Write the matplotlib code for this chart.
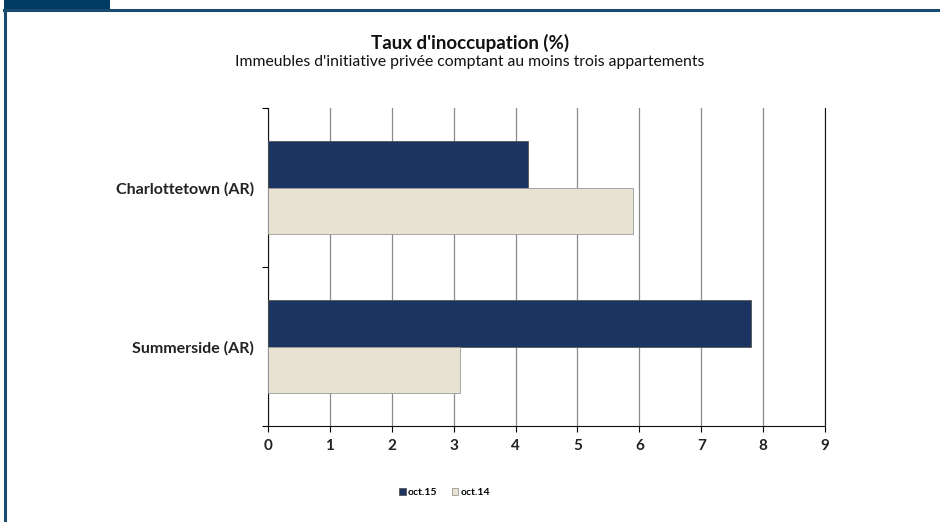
import matplotlib.pyplot as plt
from matplotlib.patches import Rectangle
from matplotlib.lines import Line2D

cities = ["Summerside (AR)", "Charlottetown (AR)"]
oct15 = [7.8, 4.2]
oct14 = [3.1, 5.9]
series_names = ["oct.15", "oct.14"]
x_ticks = [0, 1, 2, 3, 4, 5, 6, 7, 8, 9]

plt.rcParams['font.family'] = ['Lato', 'DejaVu Sans']

fig = plt.figure(figsize=(9.4, 5.22), dpi=100)
ax = fig.add_axes([0.2851, 0.1839, 0.5926, 0.6092])

h = 0.29
pos = list(range(len(cities)))
b1 = ax.barh([p + h / 2 for p in pos], oct15, height=h, color="#1b3461",
             edgecolor="#555555", linewidth=0.6, label=series_names[0], zorder=3)
b2 = ax.barh([p - h / 2 for p in pos], oct14, height=h, color="#e8e2d2",
             edgecolor="#999999", linewidth=0.6, label=series_names[1], zorder=3)

ax.set_xlim(0, 9)
ax.set_ylim(-0.5, 1.5)
ax.set_xticks(x_ticks)
ax.set_xticklabels([str(t) for t in x_ticks], fontweight="bold", fontsize=11, color="#222222")
ax.set_yticks(pos)
ax.set_yticklabels(cities, fontweight="bold", fontsize=11.5, color="#222222")
ax.set_yticks([-0.5, 0.5, 1.5], minor=True)
ax.tick_params(axis="y", which="major", length=0, pad=10)
ax.tick_params(axis="y", which="minor", length=4, width=0.8, direction="out")
ax.tick_params(axis="x", length=4, width=0.8, direction="out", pad=5)
ax.grid(axis="x", color="#8a8a8a", linewidth=0.9, zorder=0)

ax.spines["top"].set_visible(False)
ax.spines["right"].set_color("#111111")
ax.spines["left"].set_color("#111111")
ax.spines["bottom"].set_color("#111111")

fig.text(0.5, 0.917, "Taux d'inoccupation (%)", ha="center", va="center",
         fontsize=13.5, fontweight="bold", color="#111111")
fig.text(0.5, 0.882, "Immeubles d'initiative privée comptant au moins trois appartements",
         ha="center", va="center", fontsize=11.3, color="#111111")

fig.legend(handles=[b1, b2], loc="center", bbox_to_anchor=(0.473, 0.056), ncol=2,
           frameon=False, handlelength=0.6, handleheight=0.6,
           handletextpad=0.2, columnspacing=1.4, prop={"weight": "bold", "size": 7.5})

# frame
fig.add_artist(Rectangle((4 / 940, 1 - 9 / 522), 106 / 940, 9 / 522,
                         transform=fig.transFigure, color="#003b64", lw=0))
fig.add_artist(Line2D([4 / 940, 1], [1 - 10 / 522, 1 - 10 / 522],
                      transform=fig.transFigure, color="#1a4a6e", lw=2.2))
fig.add_artist(Line2D([5 / 940, 5 / 940], [0, 1 - 10 / 522],
                      transform=fig.transFigure, color="#1a4a6e", lw=2.2))

fig.savefig("out.png", dpi=100)
